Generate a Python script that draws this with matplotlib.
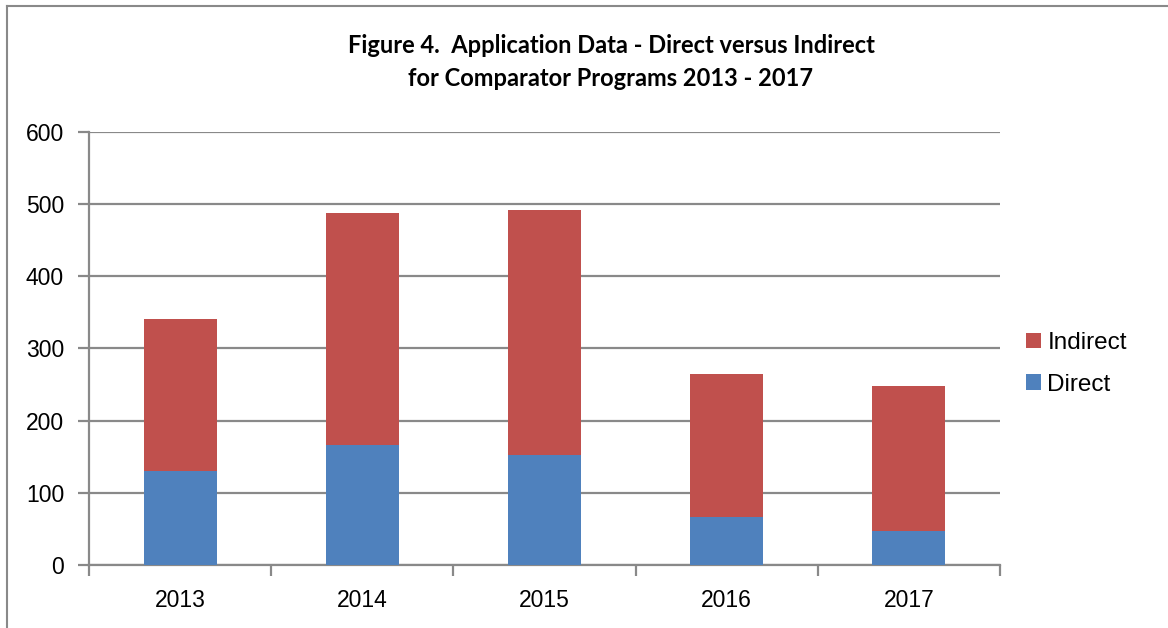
import matplotlib
matplotlib.use("Agg")
import matplotlib.pyplot as plt
from matplotlib.lines import Line2D
import numpy as np

years = ["2013", "2014", "2015", "2016", "2017"]
direct = [130, 166, 152, 66, 47]
indirect = [210, 321, 340, 199, 201]

blue = "#4F81BD"
red = "#C0504D"
grid = "#898989"

plt.rcParams["font.family"] = ["Liberation Sans", "DejaVu Sans"]

fig = plt.figure(figsize=(11.68, 6.28), dpi=100)
ax = fig.add_axes([89/1168, 1-565/628, (1000-89)/1168, (565-131.7)/628])

x = np.arange(len(years))
ax.bar(x, direct, width=0.4, color=blue, label="Direct", zorder=3)
ax.bar(x, indirect, width=0.4, bottom=direct, color=red, label="Indirect", zorder=3)

ax.set_xlim(-0.5, len(years) - 0.5)
ax.set_ylim(0, 600)
ax.set_yticks(range(0, 601, 100))
ax.yaxis.grid(True, color=grid, linewidth=1.6, zorder=0)
ax.set_xticks(x)
ax.set_xticklabels(years)
ax.set_xticks(np.arange(-0.5, len(years)), minor=True)
ax.tick_params(axis="x", which="major", length=0, pad=17, labelsize=16.5)
ax.tick_params(axis="x", which="minor", length=8, width=1.6, color=grid, direction="out")
ax.tick_params(axis="y", length=8, width=1.6, color=grid, direction="out", labelsize=16.5, pad=10)
for s in ["top", "right"]:
    ax.spines[s].set_visible(False)
for s in ["left", "bottom"]:
    ax.spines[s].set_color(grid)
    ax.spines[s].set_linewidth(1.6)

handles, labels = ax.get_legend_handles_labels()
fig.legend(handles[::-1], labels[::-1], loc="center left",
           bbox_to_anchor=(1026/1168, 1-364/628), frameon=False,
           borderaxespad=0, borderpad=0,
           fontsize=17.5, handlelength=0.6, handleheight=0.6,
           handletextpad=0.28, labelspacing=0.8)

fig.text(611/1168, 1-62/628,
         "Figure 4.  Application Data - Direct versus Indirect\nfor Comparator Programs 2013 - 2017",
         ha="center", va="center", fontsize=17, fontweight="bold",
         family=["Lato", "DejaVu Sans"], linespacing=1.55)

fig.add_artist(Line2D([7/1168, 7/1168], [0, 1-6/628], color=grid, lw=1.5))
fig.add_artist(Line2D([7/1168, 1], [1-6/628, 1-6/628], color=grid, lw=1.5))

fig.savefig("out.png", dpi=100)
